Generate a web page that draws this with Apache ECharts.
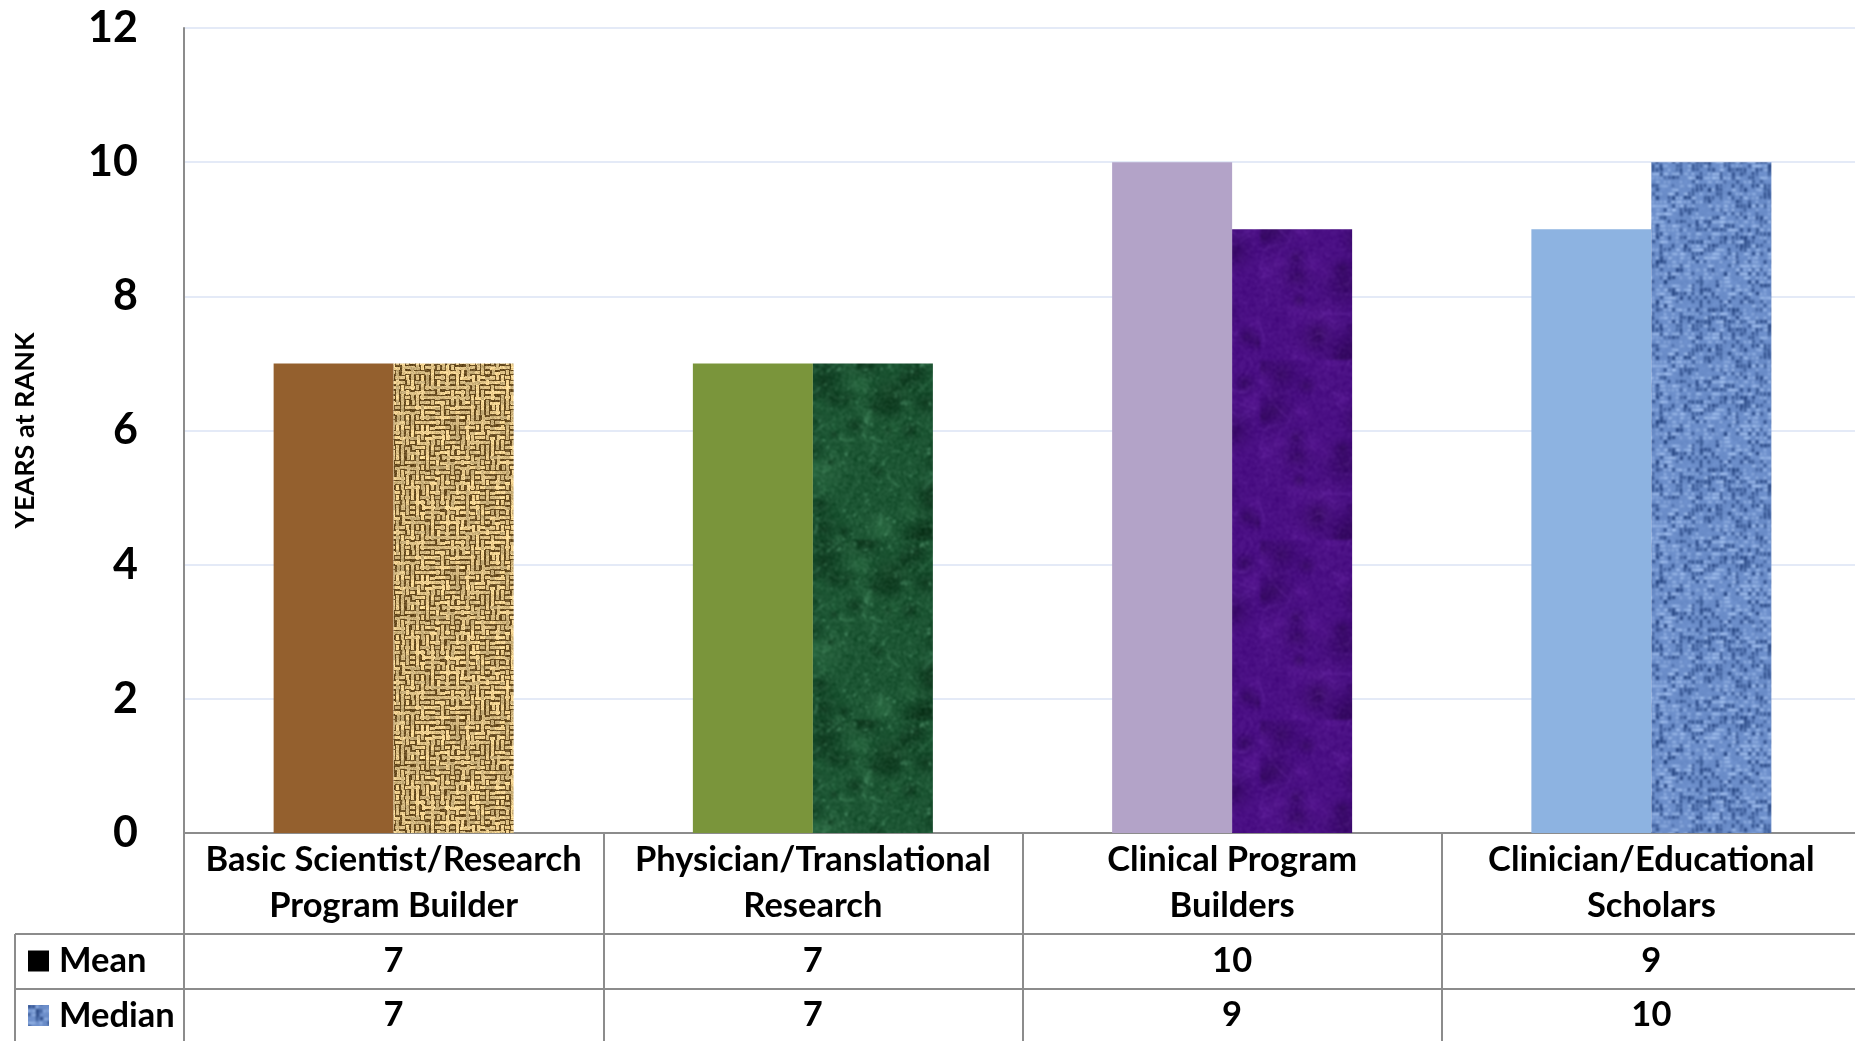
<!DOCTYPE html>
<html>
<head>
<meta charset="utf-8">
<title>Years at Rank</title>
<script src="https://cdn.jsdelivr.net/npm/echarts@6/dist/echarts.min.js"></script>
<style>
  html, body { margin: 0; padding: 0; background: #ffffff; }
  #chart { width: 1855px; height: 1041px; }
</style>
</head>
<body>
<div id="chart"></div>
<script>
// ---- data ----
const categories = [
  'Basic Scientist/Research\nProgram Builder',
  'Physician/Translational\nResearch',
  'Clinical Program\nBuilders',
  'Clinician/Educational\nScholars'
];
const seriesNames = ['Mean', 'Median'];
const meanValues = [7, 7, 10, 9];
const medianValues = [7, 7, 9, 10];
const yMin = 0, yMax = 12, yStep = 2;
const axisTitle = 'YEARS at RANK';

// ---- styling ----
const meanColors = ['#94602e', '#7a953b', '#b3a3c8', '#8db3e1'];
const FONT = 'Lato';
const LINE = '#8c8c8c';
const TXT = 34.5;

// small deterministic generator used only for texture grain
function makeRand(seed) {
  let a = seed >>> 0;
  return function () {
    a |= 0; a = a + 0x6D2B79F5 | 0;
    let t = Math.imul(a ^ a >>> 15, 1 | a);
    t = t + Math.imul(t ^ t >>> 7, 61 | t) ^ t;
    return ((t ^ t >>> 14) >>> 0) / 4294967296;
  };
}
function newCanvas(w, h) {
  const c = document.createElement('canvas');
  c.width = w; c.height = h;
  return c;
}
function grain(ctx, w, h, rnd, amt) {
  const img = ctx.getImageData(0, 0, w, h);
  const d = img.data;
  for (let i = 0; i < d.length; i += 4) {
    const n = (rnd() - 0.5) * amt;
    d[i] = Math.max(0, Math.min(255, d[i] + n));
    d[i + 1] = Math.max(0, Math.min(255, d[i + 1] + n));
    d[i + 2] = Math.max(0, Math.min(255, d[i + 2] + n));
  }
  ctx.putImageData(img, 0, 0);
}
// soften a texture tile (wraps edges so the tile stays seamless)
function soften(src, px) {
  const S = src.width, out = newCanvas(S, S), ctx = out.getContext('2d');
  const big = newCanvas(S * 3, S * 3), b = big.getContext('2d');
  for (let i = 0; i < 3; i++) for (let j = 0; j < 3; j++) b.drawImage(src, i * S, j * S);
  ctx.filter = 'blur(' + px + 'px)';
  ctx.drawImage(big, -S, -S);
  ctx.filter = 'none';
  return out;
}

// burlap weave
function burlapTexture() {
  const S = 150, c = newCanvas(S, S), ctx = c.getContext('2d'), r = makeRand(11);
  ctx.fillStyle = '#6a4e22';
  ctx.fillRect(0, 0, S, S);
  const p = 5;
  for (let y = 0; y < S; y += p) {
    for (let x = 0; x < S; x += p) {
      const l = 195 + r() * 55;
      ctx.fillStyle = 'rgb(' + Math.round(l) + ',' + Math.round(l * 0.87) + ',' + Math.round(l * 0.6) + ')';
      const horiz = r() < 0.5;
      const jx = r() < 0.2 ? 1 : 0;
      if (horiz) ctx.fillRect(x, y + 1 + jx, p + (r() < 0.4 ? p : 0), 3);
      else ctx.fillRect(x + 1 + jx, y, 3, p + (r() < 0.4 ? p : 0));
    }
  }
  grain(ctx, S, S, r, 40);
  return soften(c, 0.55);
}

// green marble
function marbleTexture() {
  const S = 180, c = newCanvas(S, S), ctx = c.getContext('2d'), r = makeRand(23);
  ctx.fillStyle = '#1c5533';
  ctx.fillRect(0, 0, S, S);
  for (let i = 0; i < 70; i++) {
    const x = r() * S, y = r() * S, rad = 6 + r() * 24;
    const g = ctx.createRadialGradient(x, y, 0, x, y, rad);
    const dark = r() < 0.6;
    g.addColorStop(0, dark ? 'rgba(3,35,15,0.55)' : 'rgba(60,130,85,0.35)');
    g.addColorStop(1, 'rgba(20,70,40,0)');
    ctx.fillStyle = g;
    ctx.fillRect(x - rad, y - rad, rad * 2, rad * 2);
  }
  for (let i = 0; i < 60; i++) {
    ctx.strokeStyle = 'rgba(100,175,130,' + (0.1 + r() * 0.2) + ')';
    ctx.lineWidth = 1 + r() * 2.5;
    ctx.beginPath();
    let x = r() * S, y = r() * S;
    ctx.moveTo(x, y);
    const nx = x + (r() - 0.5) * 30, ny = y + (r() - 0.5) * 30;
    ctx.quadraticCurveTo(x + (r() - 0.5) * 20, y + (r() - 0.5) * 20, nx, ny);
    ctx.stroke();
  }
  // light specks
  for (let i = 0; i < 260; i++) {
    ctx.fillStyle = 'rgba(110,185,140,' + (0.2 + r() * 0.35) + ')';
    ctx.fillRect(r() * S, r() * S, 1 + r() * 2, 1 + r() * 2);
  }
  grain(ctx, S, S, r, 45);
  return soften(c, 0.9);
}

// purple felt
function purpleTexture() {
  const S = 180, c = newCanvas(S, S), ctx = c.getContext('2d'), r = makeRand(37);
  ctx.fillStyle = '#4a0f84';
  ctx.fillRect(0, 0, S, S);
  for (let i = 0; i < 45; i++) {
    const x = r() * S, y = r() * S, rad = 10 + r() * 25;
    const g = ctx.createRadialGradient(x, y, 0, x, y, rad);
    const dark = r() < 0.6;
    g.addColorStop(0, dark ? 'rgba(30,0,60,0.45)' : 'rgba(105,35,165,0.35)');
    g.addColorStop(1, 'rgba(60,10,110,0)');
    ctx.fillStyle = g;
    ctx.fillRect(x - rad, y - rad, rad * 2, rad * 2);
  }
  for (let i = 0; i < 60; i++) {
    ctx.strokeStyle = 'rgba(125,65,185,' + (0.12 + r() * 0.2) + ')';
    ctx.lineWidth = 0.8 + r();
    ctx.beginPath();
    const x = r() * S, y = r() * S;
    ctx.moveTo(x, y);
    ctx.quadraticCurveTo(x + (r() - 0.5) * 40, y + (r() - 0.5) * 40, x + (r() - 0.5) * 50, y + (r() - 0.5) * 50);
    ctx.stroke();
  }
  grain(ctx, S, S, r, 30);
  return soften(c, 0.8);
}

// blue linen
function denimTexture() {
  const S = 160, c = newCanvas(S, S), ctx = c.getContext('2d'), r = makeRand(53);
  ctx.fillStyle = '#6b8dc9';
  ctx.fillRect(0, 0, S, S);
  const p = 4;
  for (let y = 0; y < S; y += p) {
    for (let x = 0; x < S; x += p) {
      const v = r();
      if (v < 0.33) {
        ctx.fillStyle = 'rgba(25,55,115,' + (0.5 + r() * 0.45) + ')';
        ctx.fillRect(x, y, r() < 0.5 ? 3 : 2, r() < 0.5 ? 4 : 3);
      } else if (v < 0.68) {
        ctx.fillStyle = 'rgba(180,208,250,' + (0.5 + r() * 0.45) + ')';
        ctx.fillRect(x, y + 1, r() < 0.5 ? 4 : 2, 2);
      }
    }
  }
  grain(ctx, S, S, r, 25);
  return soften(c, 0.85);
}

const medianTextures = [burlapTexture(), marbleTexture(), purpleTexture(), denimTexture()];
const legendTexture = medianTextures[3];

const chart = echarts.init(document.getElementById('chart'), null, { renderer: 'canvas' });

// table row geometry below the category axis
const rowLabelH = 101;   // category-name row
const rowH = 55;         // value rows

const baseAxis = {
  type: 'category',
  data: categories,
  position: 'bottom',
  splitLine: { show: false },
  axisTick: { show: false }
};
const tableText = { fontFamily: FONT, fontWeight: 'bold', fontSize: TXT, color: '#000' };

const option = {
  animation: false,
  backgroundColor: '#ffffff',
  grid: { left: 184, top: 28, width: 1677, height: 805, containLabel: false, outerBoundsMode: 'none' },
  legend: {
    orient: 'vertical',
    left: 28,
    top: 943.5,
    padding: 0,
    icon: 'rect',
    itemWidth: 21,
    itemHeight: 21,
    itemGap: 19.5,
    selectedMode: false,
    textStyle: Object.assign({}, tableText, { lineHeight: 32, padding: [0, 0, 0, 5] }),
    data: [
      { name: 'Mean', itemStyle: { color: '#000000' } },
      { name: 'Median', itemStyle: { color: { image: legendTexture, repeat: 'repeat' } } }
    ]
  },
  xAxis: [
    Object.assign({}, baseAxis, {
      axisLine: { show: true, lineStyle: { color: LINE, width: 2 } },
      axisTick: { show: true, interval: 0, length: 210, lineStyle: { color: LINE, width: 2 } },
      axisLabel: Object.assign({ interval: 0, margin: 50, verticalAlign: 'middle', lineHeight: 46 }, tableText)
    }),
    Object.assign({}, baseAxis, {
      offset: rowLabelH,
      axisLine: { show: true, lineStyle: { color: LINE, width: 2 } },
      axisLabel: Object.assign({
        interval: 0, margin: 27, verticalAlign: 'middle',
        formatter: (v, i) => String(meanValues[i])
      }, tableText)
    }),
    Object.assign({}, baseAxis, {
      offset: rowLabelH + rowH,
      axisLine: { show: true, lineStyle: { color: LINE, width: 2 } },
      axisLabel: Object.assign({
        interval: 0, margin: 26, verticalAlign: 'middle',
        formatter: (v, i) => String(medianValues[i])
      }, tableText)
    })
  ],
  yAxis: {
    type: 'value',
    min: yMin, max: yMax, interval: yStep,
    name: axisTitle,
    nameLocation: 'middle',
    nameRotate: 90,
    nameGap: 145,
    nameTextStyle: { fontFamily: FONT, fontWeight: 'bold', fontSize: 27, color: '#000' },
    axisLine: { show: true, lineStyle: { color: LINE, width: 2 } },
    axisTick: { show: false },
    axisLabel: { margin: 46, fontFamily: FONT, fontWeight: 'bold', fontSize: 43, color: '#000' },
    splitLine: { show: true, lineStyle: { color: '#dbe3f4', width: 1.5 } }
  },
  series: [
    {
      name: seriesNames[0],
      type: 'bar',
      barWidth: 120,
      barGap: '0%',
      itemStyle: { color: '#000000' },
      data: meanValues.map((v, i) => ({ value: v, itemStyle: { color: meanColors[i] } }))
    },
    {
      name: seriesNames[1],
      type: 'bar',
      barWidth: 120,
      barGap: '0%',
      itemStyle: { color: { image: legendTexture, repeat: 'repeat' } },
      data: medianValues.map((v, i) => ({ value: v, itemStyle: { color: { image: medianTextures[i], repeat: 'repeat' } } }))
    }
  ],
  // legend-column borders of the data table (left of the plot)
  graphic: [
    { type: 'line', shape: { x1: 15, y1: 934, x2: 184, y2: 934 }, style: { stroke: LINE, lineWidth: 2 } },
    { type: 'line', shape: { x1: 15, y1: 989, x2: 184, y2: 989 }, style: { stroke: LINE, lineWidth: 2 } },
    { type: 'line', shape: { x1: 15, y1: 934, x2: 15, y2: 1041 }, style: { stroke: LINE, lineWidth: 2 } }
  ]
};

chart.setOption(option);
</script>
</body>
</html>
